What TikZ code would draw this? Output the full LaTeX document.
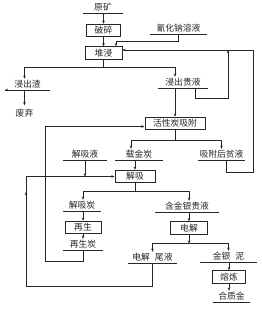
\documentclass[tikz,border=0pt]{standalone}
\usepackage{fontspec}
\newfontfamily\cjk{Noto Sans CJK SC}
\usetikzlibrary{arrows.meta,positioning,calc}
\definecolor{cLine}{HTML}{262626}

\begin{document}
\begin{tikzpicture}[
  x=1pt, y=-1pt,
  font=\cjk\fontsize{8.8}{10}\selectfont,
  text=cLine,
  box/.style={draw=cLine, line width=1pt, inner sep=1pt,
    minimum height=12.5pt, minimum width=#1},
  box/.default=36pt,
  uline/.style={append after command={
    (\tikzlastnode.south west) edge[draw=cLine, line width=0.5pt] (\tikzlastnode.south east)}},
  stream/.style={inner xsep=0pt, inner ysep=1pt, text height=7.3pt, text depth=1.5pt,
    anchor=south, minimum width=#1, uline},
  ar/.style={-{Stealth[length=3.2pt, width=2.6pt]}, draw=cLine, line width=0.55pt},
  ln/.style={draw=cLine, line width=0.55pt},
]
\useasboundingbox (0,0) rectangle (262,311);

% ---------------------------------------------------------------- heap leaching
\node[stream=40pt] (ore)   at (103,13)    {原矿};
\node[box=34pt]    (crush) at (103.5,30.5) {破碎};
\node[stream=57pt] (cyan)  at (178.5,34)  {氰化钠溶液};
\node[box=37pt]    (heap)  at (103.5,53)  {堆浸};
\node[stream=45pt] (resid) at (27.5,90)   {浸出渣};
\node              (waste) at (24.5,113)  {废弃};
\node[stream=50pt] (preg)  at (183,88)    {浸出贵液};

% ---------------------------------------------------------------- adsorption, desorption
\node[box=60pt]    (adsorb) at (175,123.5) {活性炭吸附};
\node[stream=48pt] (loaded) at (139,160)   {载金炭};
\node[stream=47pt] (barren) at (221.5,160) {吸附后贫液};
\node[stream=44pt] (eluent) at (85,160)    {解吸液};
\node[box=40pt]    (desorb) at (135,176.5) {解吸};
\node[stream=37pt] (strip)  at (82,211)    {解吸炭};
\node[stream=63pt] (rich)   at (187,212)   {含金银贵液};
\node[box=36pt]    (regen)  at (83,227.5)  {再生};
\node[stream=40pt] (regc)   at (83,250)    {再生炭};

% ---------------------------------------------------------------- electrowinning, smelting
\node[box=37pt]    (elec)   at (189,228)   {电解};
\node[stream=48pt] (spent)  at (152.5,263) {电解\hspace{5pt}尾液};
\node[stream=57pt] (sludge) at (228.5,262) {金银\hspace{5pt}泥\hspace{6pt}};
\node[box=33pt]    (smelt)  at (229,277)   {熔炼};
\node[stream=37pt] (bull)   at (231.5,302) {合质金};

\coordinate (rtop) at (253,50);
\coordinate (lbot) at (26,286);

% ---------------------------------------------------------------- arrows
\draw[ar] (crush.north |- ore.south) -- (crush);
\draw[ar] (crush) -- (heap);
\draw[ar] (cyan.south) -- ++(0,7.5) -| ([xshift=12.5pt]heap.north);
\draw[ln] (heap.south) -- ++(0,8) coordinate (j1);
\draw[ar] (j1) -| ([xshift=-3pt]resid.north);
\draw[ar] (j1) -| ([xshift=-8pt]preg.north);
\draw[ar] (resid.south) -- (resid.south west);
\draw[ar] (waste.north |- resid.south) -- (waste);

\draw[ar] (adsorb.north |- preg.south) -- (adsorb);
\draw[ar] ([xshift=12pt]preg.south) -- ++(0,10) -| ($(rtop)+(-25,0)$);
\draw[ar] ([xshift=4.5pt]barren.south) -- ++(0,12) -| (rtop) -- ([yshift=3pt]heap.east);

\draw[ln] (adsorb.south) -- ++(0,10) coordinate (j2);
\draw[ar] (j2) -| ([xshift=-8pt]loaded.north);
\draw[ar] (j2) -| (barren.north);
\draw[ar] (desorb.north |- loaded.south) -- (desorb);
\draw[ar] (eluent.south) -- (eluent.south |- desorb.west);

% spent electrolyte back to desorption
\draw[ar] (spent.south) |- (lbot) -- ++(0,-94);
\draw[ar] (lbot) |- (desorb.west);

\draw[ln] (desorb.south) -- ++(0,8) coordinate (j3);
\draw[ar] (j3) -| (strip.north -| regen.north);
\draw[ar] (j3) -| (rich.north -| elec.north);
\draw[ar] (regen.north |- strip.south) -- (regen);
\draw[ar] (regen) -- (regc);
% regenerated carbon back to adsorption
\draw[ar] (regc.south) -- ++(0,11) -- ++(-38,0) |- ([yshift=-3pt]adsorb.west);

\draw[ar] (elec.north |- rich.south) -- (elec);
\draw[ar] (elec.south) -- ++(0,9) coordinate (j4);
\draw[ar] (j4) -| (spent.north);
\draw[ar] (j4) -| (sludge.north);
\draw[ar] (smelt.north |- sludge.south) -- (smelt);
\draw[ar] (smelt) -- (smelt |- bull.north);

\end{tikzpicture}
\end{document}
